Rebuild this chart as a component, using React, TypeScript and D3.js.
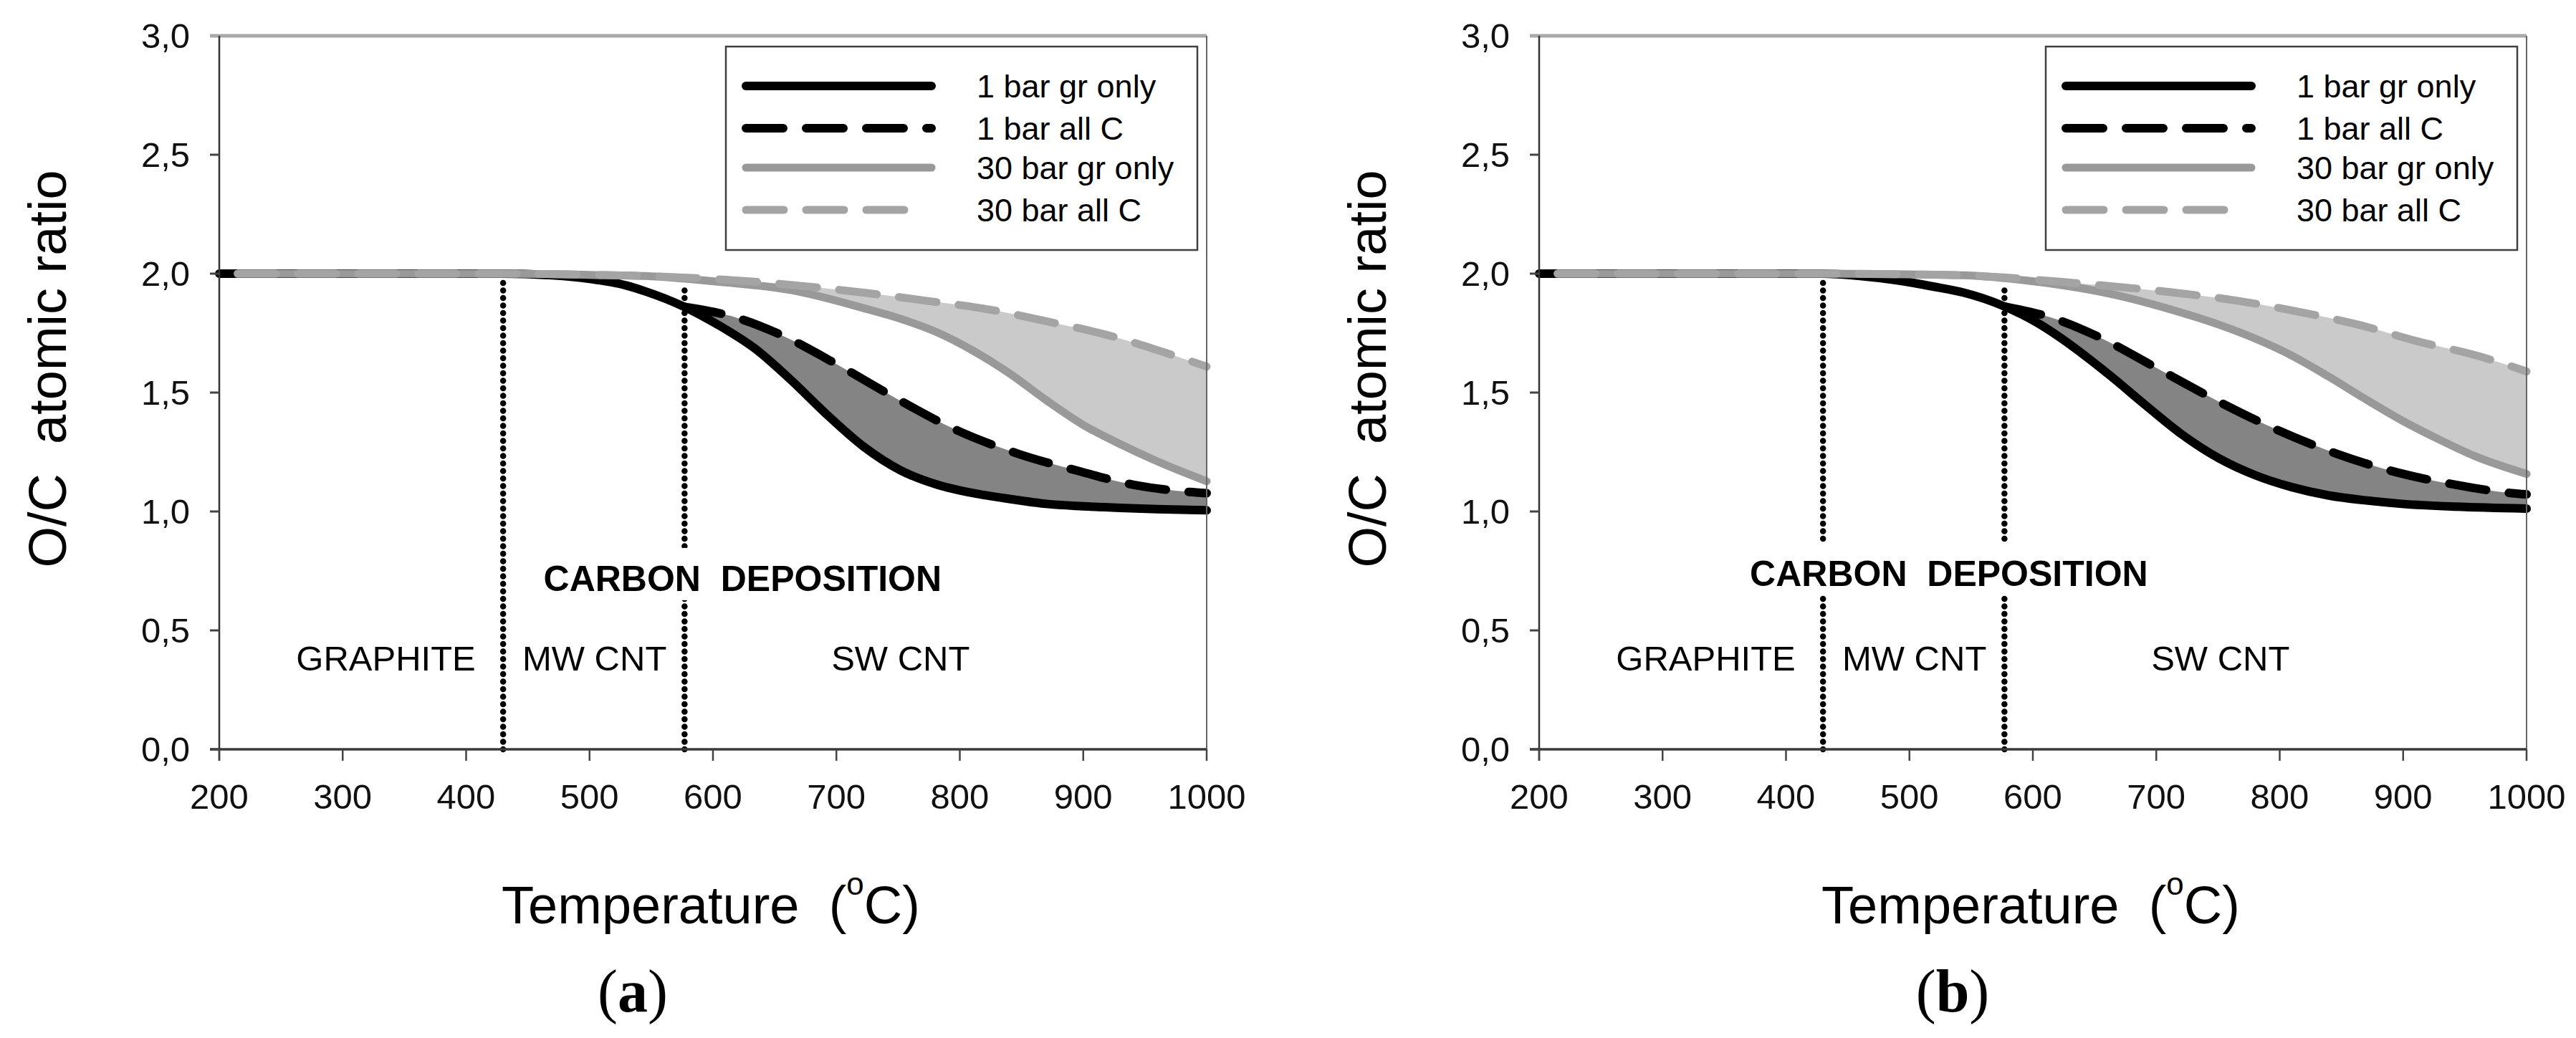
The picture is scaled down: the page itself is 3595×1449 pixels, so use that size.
import React from 'react';
import * as d3 from 'd3';

type Pt = [number, number];

// ---------- Axis ticks ----------
const xTickValues = [200, 300, 400, 500, 600, 700, 800, 900, 1000];
const yTickValues = [0, 0.5, 1.0, 1.5, 2.0, 2.5, 3.0];
const yTickLabels = ['0,0', '0,5', '1,0', '1,5', '2,0', '2,5', '3,0'];

// ---------- Legend / labels ----------
const seriesNames = ['1 bar gr only', '1 bar all C', '30 bar gr only', '30 bar all C'];
const regionNames = ['GRAPHITE', 'MW CNT', 'SW CNT'];
const depositionTitle = 'CARBON  DEPOSITION';
const panelLetters = ['a', 'b'];

// ---------- Panel (a) data: [temperature °C, O/C ratio] ----------
const a1barGrOnly: Pt[] = [
  [200, 2.0], [430, 2.0], [470, 1.993], [500, 1.978], [530, 1.95], [545, 1.926], [577, 1.86],
  [604, 1.785], [634, 1.685], [663, 1.554], [693, 1.404], [722, 1.273], [752, 1.173],
  [782, 1.112], [811, 1.077], [841, 1.052], [870, 1.032], [900, 1.022], [930, 1.015],
  [960, 1.01], [1000, 1.005],
];
const a1barAllC: Pt[] = [
  [577, 1.86], [619, 1.815], [654, 1.745], [702, 1.614], [749, 1.474], [797, 1.343],
  [847, 1.243], [894, 1.173], [941, 1.112], [986, 1.082], [1000, 1.077],
];
const a30barGrOnly: Pt[] = [
  [215, 2.0], [430, 2.0], [500, 1.995], [545, 1.99], [604, 1.966], [663, 1.931], [722, 1.855],
  [752, 1.81], [782, 1.752], [811, 1.675], [841, 1.578], [870, 1.468], [900, 1.364],
  [930, 1.283], [959, 1.213], [1000, 1.127],
];
const a30barAllC: Pt[] = [
  [215, 2.0], [430, 2.0], [500, 1.995], [545, 1.99], [634, 1.966], [722, 1.92], [773, 1.886],
  [823, 1.85], [870, 1.8], [921, 1.74], [968, 1.665], [1000, 1.609],
];
const aBoundaries: Pt[] = [[430, 1.98], [577, 1.93]];

// ---------- Panel (b) data ----------
const b1barGrOnly: Pt[] = [
  [200, 2.0], [430, 2.0], [460, 1.99], [490, 1.972], [520, 1.945], [544, 1.92], [577, 1.862],
  [603, 1.795], [632, 1.695], [662, 1.574], [692, 1.444], [721, 1.323], [751, 1.223],
  [780, 1.153], [810, 1.102], [840, 1.067], [869, 1.047], [899, 1.032], [943, 1.02],
  [1000, 1.012],
];
const b1barAllC: Pt[] = [
  [577, 1.862], [618, 1.81], [653, 1.735], [700, 1.604], [748, 1.469], [798, 1.343],
  [846, 1.243], [896, 1.163], [943, 1.112], [988, 1.077], [1000, 1.072],
];
const b30barGrOnly: Pt[] = [
  [215, 2.0], [430, 2.0], [500, 1.997], [544, 1.993], [603, 1.966], [662, 1.916], [721, 1.835],
  [751, 1.785], [781, 1.725], [810, 1.655], [840, 1.566], [869, 1.474], [899, 1.383],
  [929, 1.303], [958, 1.233], [1000, 1.158],
];
const b30barAllC: Pt[] = [
  [215, 2.0], [430, 2.0], [500, 1.997], [544, 1.993], [633, 1.961], [715, 1.92], [766, 1.886],
  [815, 1.84], [864, 1.785], [912, 1.715], [960, 1.655], [1000, 1.589],
];
const bBoundaries: Pt[] = [[430, 1.97], [577, 1.94]];

// ---------- Layout ----------
const W = 3595;
const H = 1449;
const PLOT = { left: 306, right: 1684, top: 50, bottom: 1046 };
const SANS = '"Liberation Sans", Arial, sans-serif';
const SERIF = '"Liberation Serif", "Times New Roman", serif';

interface PanelData {
  offset: number;
  letter: string;
  grOnly1: Pt[];
  allC1: Pt[];
  grOnly30: Pt[];
  allC30: Pt[];
  boundaries: Pt[];
  depositionAt: Pt;
  regionAt: number[];
  regionY: number;
}

const panels: PanelData[] = [
  {
    offset: 0, letter: panelLetters[0],
    grOnly1: a1barGrOnly, allC1: a1barAllC, grOnly30: a30barGrOnly, allC30: a30barAllC,
    boundaries: aBoundaries, depositionAt: [624, 0.666], regionAt: [335, 504, 752], regionY: 0.33,
  },
  {
    offset: 1842, letter: panelLetters[1],
    grOnly1: b1barGrOnly, allC1: b1barAllC, grOnly30: b30barGrOnly, allC30: b30barAllC,
    boundaries: bBoundaries, depositionAt: [532, 0.687], regionAt: [335, 504, 752], regionY: 0.33,
  },
];

const STYLES = [
  { stroke: '#000000', width: 12, dash: undefined as string | undefined },
  { stroke: '#000000', width: 12, dash: '52 32' },
  { stroke: '#999999', width: 11, dash: undefined as string | undefined },
  { stroke: '#a4a4a4', width: 11, dash: '53 31' },
];

const x = d3.scaleLinear().domain([200, 1000]).range([PLOT.left, PLOT.right]);
const y = d3.scaleLinear().domain([0, 3]).range([PLOT.bottom, PLOT.top]);
const line = d3
  .line<Pt>()
  .x((d) => x(d[0]))
  .y((d) => y(d[1]))
  .curve(d3.curveMonotoneX);

function bandPath(upper: Pt[], lower: Pt[]): string {
  const up = line(upper) || '';
  const low = line(lower.slice().reverse()) || '';
  return up + 'L' + low.slice(1) + 'Z';
}

function Panel({ p }: { p: PanelData }) {
  const series = [p.grOnly1, p.allC1, p.grOnly30, p.allC30];
  const startDark = p.allC1[0][0];
  const startLight = 540;
  const darkLower = p.grOnly1.filter((d) => d[0] >= startDark);
  const lightUpper = p.allC30.filter((d) => d[0] >= startLight);
  const lightLower = p.grOnly30.filter((d) => d[0] >= startLight);

  const depX = x(p.depositionAt[0]);
  const depY = y(p.depositionAt[1]);

  const legend = {
    left: 1013, top: 65, w: 658, h: 284, lx1: 1041, lx2: [1300, 1300, 1300, 1290], tx: 1363,
    rows: [120, 179, 234, 293],
  };
  const plotCx = (PLOT.left + PLOT.right) / 2 - 3;

  return (
    <g transform={`translate(${p.offset},0)`}>
      {/* fills */}
      <path d={bandPath(p.allC1, darkLower)} fill="#848484" stroke="none" />
      <path d={bandPath(lightUpper, lightLower)} fill="#cacaca" stroke="none" />

      {/* series lines */}
      {series.map((s, i) => (
        <path
          key={i}
          d={line(s) || ''}
          fill="none"
          stroke={STYLES[i].stroke}
          strokeWidth={STYLES[i].width}
          strokeDasharray={STYLES[i].dash}
          strokeLinecap="round"
          strokeLinejoin="round"
        />
      ))}

      {/* boundary dotted lines */}
      {p.boundaries.map((b, i) => (
        <line
          key={i}
          x1={x(b[0])}
          x2={x(b[0])}
          y1={y(0)}
          y2={y(b[1])}
          stroke="#000"
          strokeWidth={8.5}
          strokeDasharray="0 10.5"
          strokeLinecap="round"
        />
      ))}

      {/* carbon deposition label with white box */}
      <rect x={depX - 295} y={depY - 60} width={590} height={73} fill="#fff" />
      <text
        x={depX}
        y={depY}
        textAnchor="middle"
        fontFamily={SANS}
        fontWeight="bold"
        fontSize={50}
        style={{ whiteSpace: 'pre' }}
      >
        {depositionTitle}
      </text>
      {regionNames.map((r, i) => (
        <text key={r} x={x(p.regionAt[i])} y={y(p.regionY)} textAnchor="middle" fontFamily={SANS} fontSize={49}>
          {r}
        </text>
      ))}

      {/* frame */}
      <line x1={PLOT.left - 13} x2={PLOT.right} y1={PLOT.top} y2={PLOT.top} stroke="#a9a9a9" strokeWidth={5} />
      <line x1={PLOT.right} x2={PLOT.right} y1={PLOT.top} y2={PLOT.bottom + 16} stroke="#666" strokeWidth={2} />
      <line x1={PLOT.left} x2={PLOT.left} y1={PLOT.top} y2={PLOT.bottom + 16} stroke="#333" strokeWidth={2.5} />
      <line x1={PLOT.left - 13} x2={PLOT.right} y1={PLOT.bottom} y2={PLOT.bottom} stroke="#3a3a3a" strokeWidth={3.5} />

      {/* y ticks */}
      {yTickValues.map((v, i) => (
        <g key={v}>
          {v < 3 && (
            <line x1={PLOT.left - 13} x2={PLOT.left} y1={y(v)} y2={y(v)} stroke="#444" strokeWidth={3} />
          )}
          <text x={265} y={y(v) + 17} textAnchor="end" fontFamily={SANS} fontSize={49} fill="#111">
            {yTickLabels[i]}
          </text>
        </g>
      ))}

      {/* x ticks */}
      {xTickValues.map((t) => (
        <g key={t}>
          <line x1={x(t)} x2={x(t)} y1={PLOT.bottom} y2={PLOT.bottom + 16} stroke="#444" strokeWidth={2.5} />
          <text x={x(t)} y={1129} textAnchor="middle" fontFamily={SANS} fontSize={49} fill="#111">
            {t}
          </text>
        </g>
      ))}

      {/* axis titles */}
      <text
        transform={`translate(92,515) rotate(-90)`}
        textAnchor="middle"
        fontFamily={SANS}
        fontSize={74}
        style={{ whiteSpace: 'pre' }}
      >
        O/C  atomic ratio
      </text>
      <text x={plotCx} y={1289} textAnchor="middle" fontFamily={SANS} fontSize={74} style={{ whiteSpace: 'pre' }}>
        {'Temperature  ('}
        <tspan fontSize={44} dy={-40}>o</tspan>
        <tspan dy={40}>{'C)'}</tspan>
      </text>

      {/* panel letter */}
      <text x={883} y={1412} textAnchor="middle" fontFamily={SERIF} fontSize={84}>
        (<tspan fontWeight="bold">{p.letter}</tspan>)
      </text>

      {/* legend */}
      <rect x={legend.left} y={legend.top} width={legend.w} height={legend.h} fill="#fff" stroke="#404040" strokeWidth={2.5} />
      {seriesNames.map((n, i) => (
        <g key={n}>
          <line
            x1={legend.lx1}
            x2={legend.lx2[i]}
            y1={legend.rows[i]}
            y2={legend.rows[i]}
            stroke={STYLES[i].stroke}
            strokeWidth={STYLES[i].width}
            strokeDasharray={STYLES[i].dash}
            strokeLinecap="round"
          />
          <text x={legend.tx} y={legend.rows[i] + 16} fontFamily={SANS} fontSize={45} fill="#000">
            {n}
          </text>
        </g>
      ))}
    </g>
  );
}

export default function App() {
  return (
    <svg
      width={W}
      height={H}
      viewBox={`0 0 ${W} ${H}`}
      style={{ position: 'absolute', left: 0, top: 0, display: 'block', background: '#fff' }}
    >
      <rect x={0} y={0} width={W} height={H} fill="#fff" />
      {panels.map((p) => (
        <Panel key={p.letter} p={p} />
      ))}
    </svg>
  );
}
